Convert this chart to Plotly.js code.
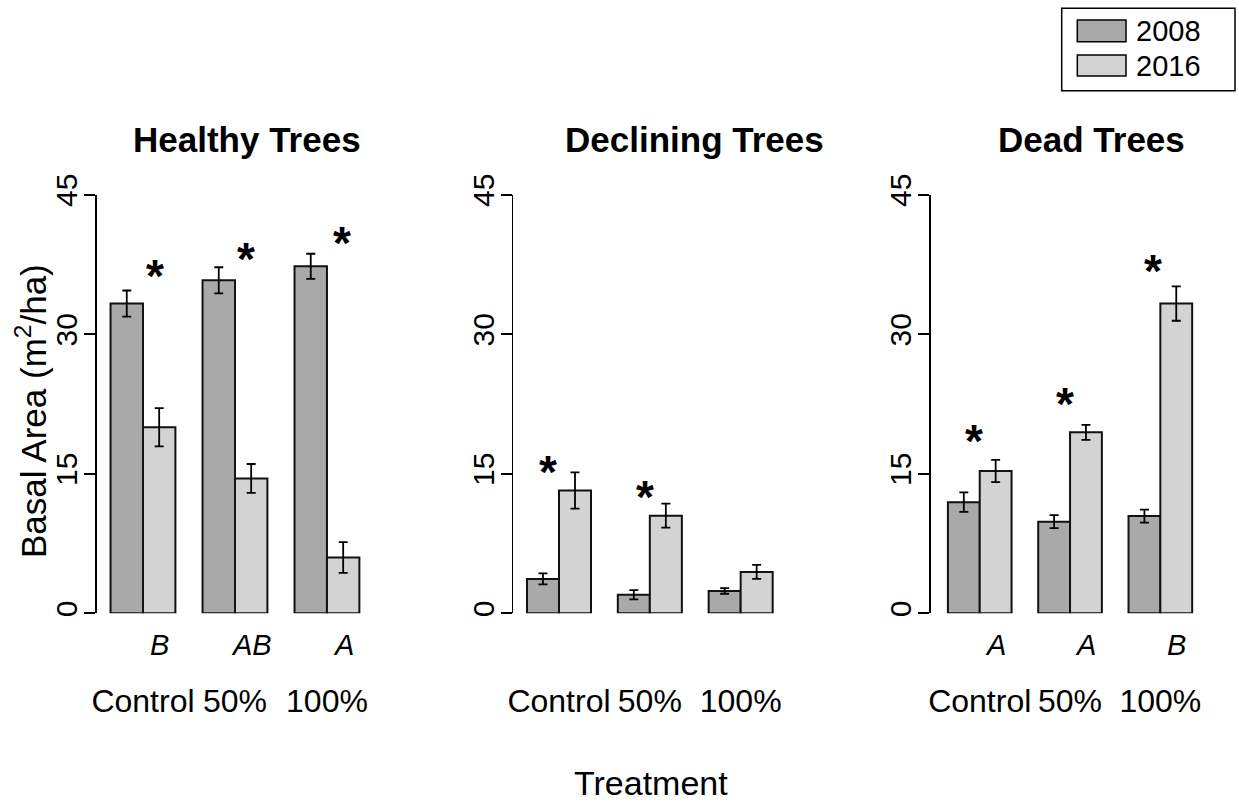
<!DOCTYPE html>
<html>
<head>
<meta charset="utf-8">
<script src="https://cdn.plot.ly/plotly-3.0.1.min.js"></script>
<style>
  html, body { margin: 0; padding: 0; background: #fff; }
  #chart { width: 1239px; height: 803px; }
</style>
</head>
<body>
<div id="chart"></div>
<script>
// ---- data ----
const treatments = ['Control', '50%', '100%'];
const years = ['2008', '2016'];
const panelTitles = ['Healthy Trees', 'Declining Trees', 'Dead Trees'];

const healthy2008 = [33.3, 35.8, 37.3];
const healthy2008Se = [1.4, 1.4, 1.35];
const healthy2016 = [20.0, 14.5, 6.0];
const healthy2016Se = [2.05, 1.55, 1.65];

const declining2008 = [3.7, 2.0, 2.4];
const declining2008Se = [0.6, 0.5, 0.3];
const declining2016 = [13.2, 10.5, 4.45];
const declining2016Se = [1.95, 1.3, 0.75];

const dead2008 = [11.95, 9.85, 10.45];
const dead2008Se = [1.05, 0.7, 0.7];
const dead2016 = [15.3, 19.45, 33.3];
const dead2016Se = [1.2, 0.8, 1.85];

// significant 2008 vs 2016 change within each treatment
const healthySig = [true, true, true];
const decliningSig = [true, true, false];
const deadSig = [true, true, true];

// treatment letters (2016 comparison)
const healthyLetters = ['B', 'AB', 'A'];
const decliningLetters = ['', '', ''];
const deadLetters = ['A', 'A', 'B'];

const yTicks = [0, 15, 30, 45];

// ---- layout constants ----
const W = 1239, H = 803;
const FONT = 'Liberation Sans, Arial, Helvetica, sans-serif';
const colors = ['#a9a9a9', '#d3d3d3'];
const px = v => v / W;
const py = v => 1 - v / H;

// plot strip of each panel (pixels) and its category range
const panelBox = [
  { left: 96.7,  right: 374.8,  range: [-0.503, 2.52] },
  { left: 513.3, right: 787.9,  range: [-0.503, 2.52] },
  { left: 930.7, right: 1207.3, range: [-0.543, 2.52] }
];
const plotTop = 194.7, plotBottom = 613.3;
const titleCenters = [246.7, 694, 1091.5];
// asterisk placement per panel: [offset from group centre, height in data units]
const starSpots = [
  [[0.13, 37.1], [0.12, 38.9], [0.163, 40.7]],
  [[-0.118, 16.1], [-0.055, 13.4], null],
  [[-0.06, 19.35], [-0.055, 23.35], [-0.084, 37.7]]
];

const panels = [
  { v08: healthy2008, e08: healthy2008Se, v16: healthy2016, e16: healthy2016Se, sig: healthySig, letters: healthyLetters },
  { v08: declining2008, e08: declining2008Se, v16: declining2016, e16: declining2016Se, sig: decliningSig, letters: decliningLetters },
  { v08: dead2008, e08: dead2008Se, v16: dead2016, e16: dead2016Se, sig: deadSig, letters: deadLetters }
];

const traces = [];
const annotations = [];
const shapes = [];
const layout = {
  width: W, height: H,
  margin: { l: 0, r: 0, t: 0, b: 0 },
  paper_bgcolor: '#fff', plot_bgcolor: '#fff',
  showlegend: false,
  barmode: 'group', bargap: 0.295, bargroupgap: 0,
  font: { family: FONT, color: '#000' }
};

panels.forEach((p, i) => {
  const sfx = i === 0 ? '' : String(i + 1);
  const xa = 'x' + sfx, ya = 'y' + sfx;
  const series = [[p.v08, p.e08], [p.v16, p.e16]];
  series.forEach(([vals, se], k) => {
    traces.push({
      type: 'bar', x: treatments, y: vals, name: years[k],
      xaxis: xa, yaxis: ya,
      marker: { color: colors[k], line: { color: '#111', width: 2 } },
      error_y: { type: 'data', array: se, visible: true, color: '#000', thickness: 1.8, width: 4.5 },
      hoverinfo: 'skip'
    });
  });

  const box = panelBox[i];
  layout['xaxis' + sfx] = {
    domain: [px(box.left), px(box.right)], range: box.range, type: 'category',
    anchor: ya, showline: false, ticks: '', showgrid: false, zeroline: false,
    tickfont: { size: 32, family: FONT, color: '#000' }, ticklabelstandoff: 66,
    fixedrange: true
  };
  layout['yaxis' + sfx] = {
    domain: [py(plotBottom), py(plotTop)], range: [0, 45], anchor: xa,
    tickvals: yTicks, ticktext: yTicks.map(String),
    ticks: 'outside', ticklen: 11, tickwidth: 1.8, tickcolor: '#000',
    showline: true, linewidth: 1.8, linecolor: '#000',
    showgrid: false, zeroline: false, tickangle: -90,
    tickfont: { size: 30, family: FONT, color: '#000' }, ticklabelstandoff: -5,
    fixedrange: true
  };

  // panel title
  annotations.push({
    xref: 'paper', yref: 'paper', x: px(titleCenters[i]), y: py(139),
    xanchor: 'center', yanchor: 'middle', showarrow: false,
    text: '<b>' + panelTitles[i] + '</b>', font: { size: 35, family: FONT, color: '#000' }
  });

  // significance asterisks
  p.sig.forEach((s, j) => {
    const spot = starSpots[i][j];
    if (!s || !spot) return;
    annotations.push({
      xref: xa, yref: ya, x: j + spot[0], y: spot[1], yshift: -8,
      xanchor: 'center', yanchor: 'middle', showarrow: false,
      text: '<b>*</b>', font: { size: 46, family: FONT, color: '#000' }
    });
  });

  // treatment letters above the category names
  p.letters.forEach((L, j) => {
    if (!L) return;
    annotations.push({
      xref: xa, yref: 'paper', x: j + 0.176, y: py(645),
      xanchor: 'center', yanchor: 'middle', showarrow: false,
      text: '<i>' + L + '</i>', font: { size: 29, family: FONT, color: '#000' }
    });
  });
});

// axis titles
annotations.push({
  xref: 'paper', yref: 'paper', x: px(651), y: py(783),
  xanchor: 'center', yanchor: 'middle', showarrow: false,
  text: 'Treatment', font: { size: 34, family: FONT, color: '#000' }
});
annotations.push({
  xref: 'paper', yref: 'paper', x: px(31), y: py(411),
  xanchor: 'center', yanchor: 'middle', showarrow: false, textangle: -90,
  text: 'Basal Area (m<sup>2</sup>/ha)', font: { size: 35, family: FONT, color: '#000' }
});

// legend box with swatches
shapes.push({
  type: 'rect', xref: 'paper', yref: 'paper',
  x0: px(1061.7), x1: px(1235), y0: py(90.7), y1: py(8.3),
  line: { color: '#000', width: 1.5 }, fillcolor: '#fff'
});
const legendRows = [[20, 41.7], [55, 76]];
years.forEach((yr, k) => {
  const [t, b] = legendRows[k];
  shapes.push({
    type: 'rect', xref: 'paper', yref: 'paper',
    x0: px(1077.3), x1: px(1126), y0: py(b), y1: py(t),
    line: { color: '#000', width: 1.5 }, fillcolor: colors[k]
  });
  annotations.push({
    xref: 'paper', yref: 'paper', x: px(1134), y: py((t + b) / 2),
    xanchor: 'left', yanchor: 'middle', showarrow: false,
    text: yr, font: { size: 29, family: FONT, color: '#000' }
  });
});

layout.annotations = annotations;
layout.shapes = shapes;

Plotly.newPlot('chart', traces, layout, { staticPlot: true, displayModeBar: false });
</script>
</body>
</html>
